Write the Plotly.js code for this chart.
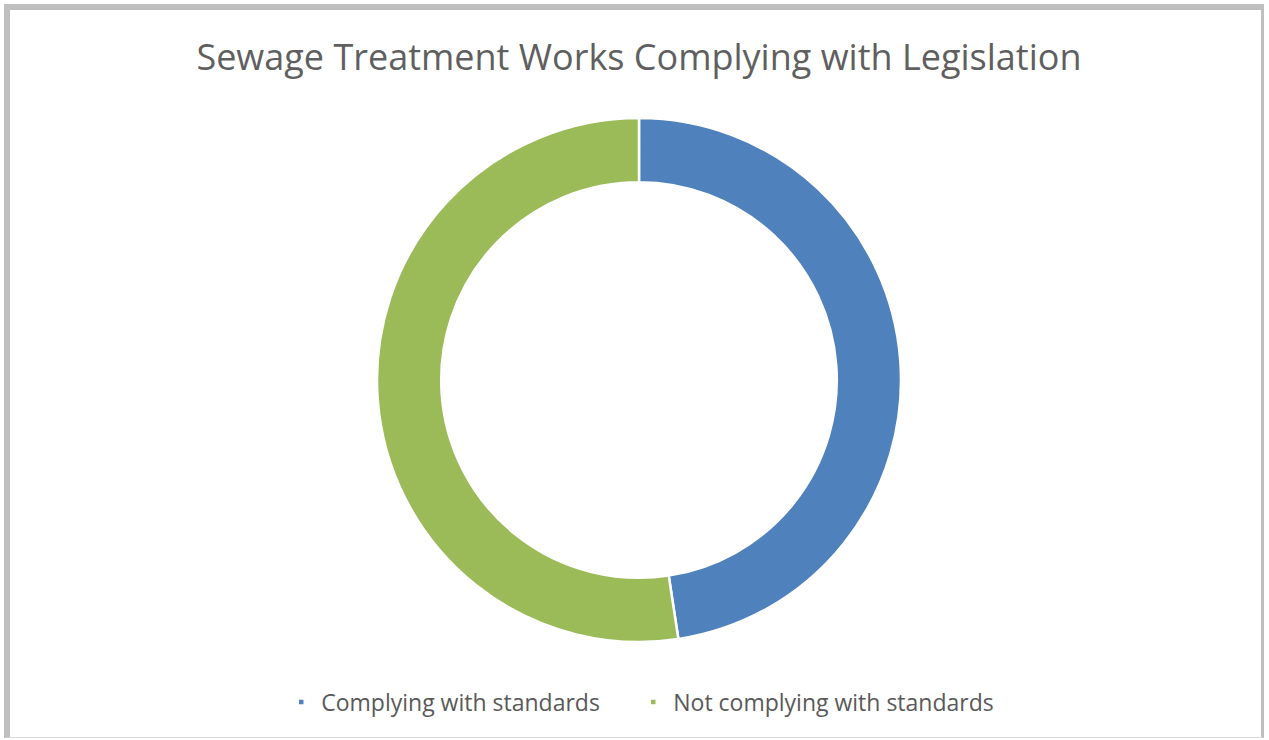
<!DOCTYPE html>
<html>
<head>
<meta charset="utf-8">
<script src="https://cdn.plot.ly/plotly-3.0.1.min.js"></script>
<style>
  html, body { margin: 0; padding: 0; background: #ffffff; overflow: hidden; }
  #chart { position: absolute; left: 0; top: 0; width: 1269px; height: 740px; }
  #frame {
    position: absolute; left: 4px; top: 4px; width: 1260px; height: 734px;
    border-left: 6px solid #bfbfbf; border-top: 6px solid #bfbfbf;
    border-right: 3px solid #bfbfbf; border-bottom: 1px solid #d9d9d9;
    box-sizing: border-box; pointer-events: none;
  }
</style>
</head>
<body>
<div id="chart"></div>
<div id="frame"></div>
<script>
const chartTitle = "Sewage Treatment Works Complying with Legislation";
const categories = ["Complying with standards", "Not complying with standards"];
const shares = [47.6, 52.4];
const sliceColors = ["#4f81bd", "#9bbb59"];

const trace = {
  type: "pie",
  labels: categories,
  values: shares,
  hole: 0.755,
  sort: false,
  direction: "clockwise",
  rotation: 0,
  textinfo: "none",
  hoverinfo: "label+percent",
  marker: { colors: sliceColors, line: { color: "#ffffff", width: 2.5 } },
  domain: { x: [0.2971, 0.7100], y: [0.1324, 0.8405] }
};

const layout = {
  width: 1269,
  height: 740,
  margin: { l: 0, r: 0, t: 0, b: 0 },
  paper_bgcolor: "#ffffff",
  font: { family: "Open Sans, sans-serif", color: "#595959" },
  title: {
    text: chartTitle,
    font: { family: "Open Sans, sans-serif", size: 36, color: "#5f5f5f" },
    x: 0.5035, xanchor: "center",
    y: 0.923, yanchor: "middle", yref: "container"
  },
  showlegend: true,
  legend: {
    orientation: "h",
    x: 0.499, xanchor: "center",
    y: 0.0514, yanchor: "middle",
    entrywidth: 307, entrywidthmode: "pixels",
    font: { family: "Open Sans, sans-serif", size: 23, color: "#595959" },
    bgcolor: "rgba(0,0,0,0)"
  }
};

Plotly.newPlot("chart", [trace], layout, { displayModeBar: false, staticPlot: true }).then(function (gd) {
  document.querySelectorAll(".legend .legendpoints path").forEach(function (p) {
    p.setAttribute("d", "M3.5,3.5H-3.5V-3.5H3.5Z");
  });
  document.querySelectorAll(".legend [clip-path]").forEach(function (el) {
    el.removeAttribute("clip-path");
  });
});
</script>
</body>
</html>
